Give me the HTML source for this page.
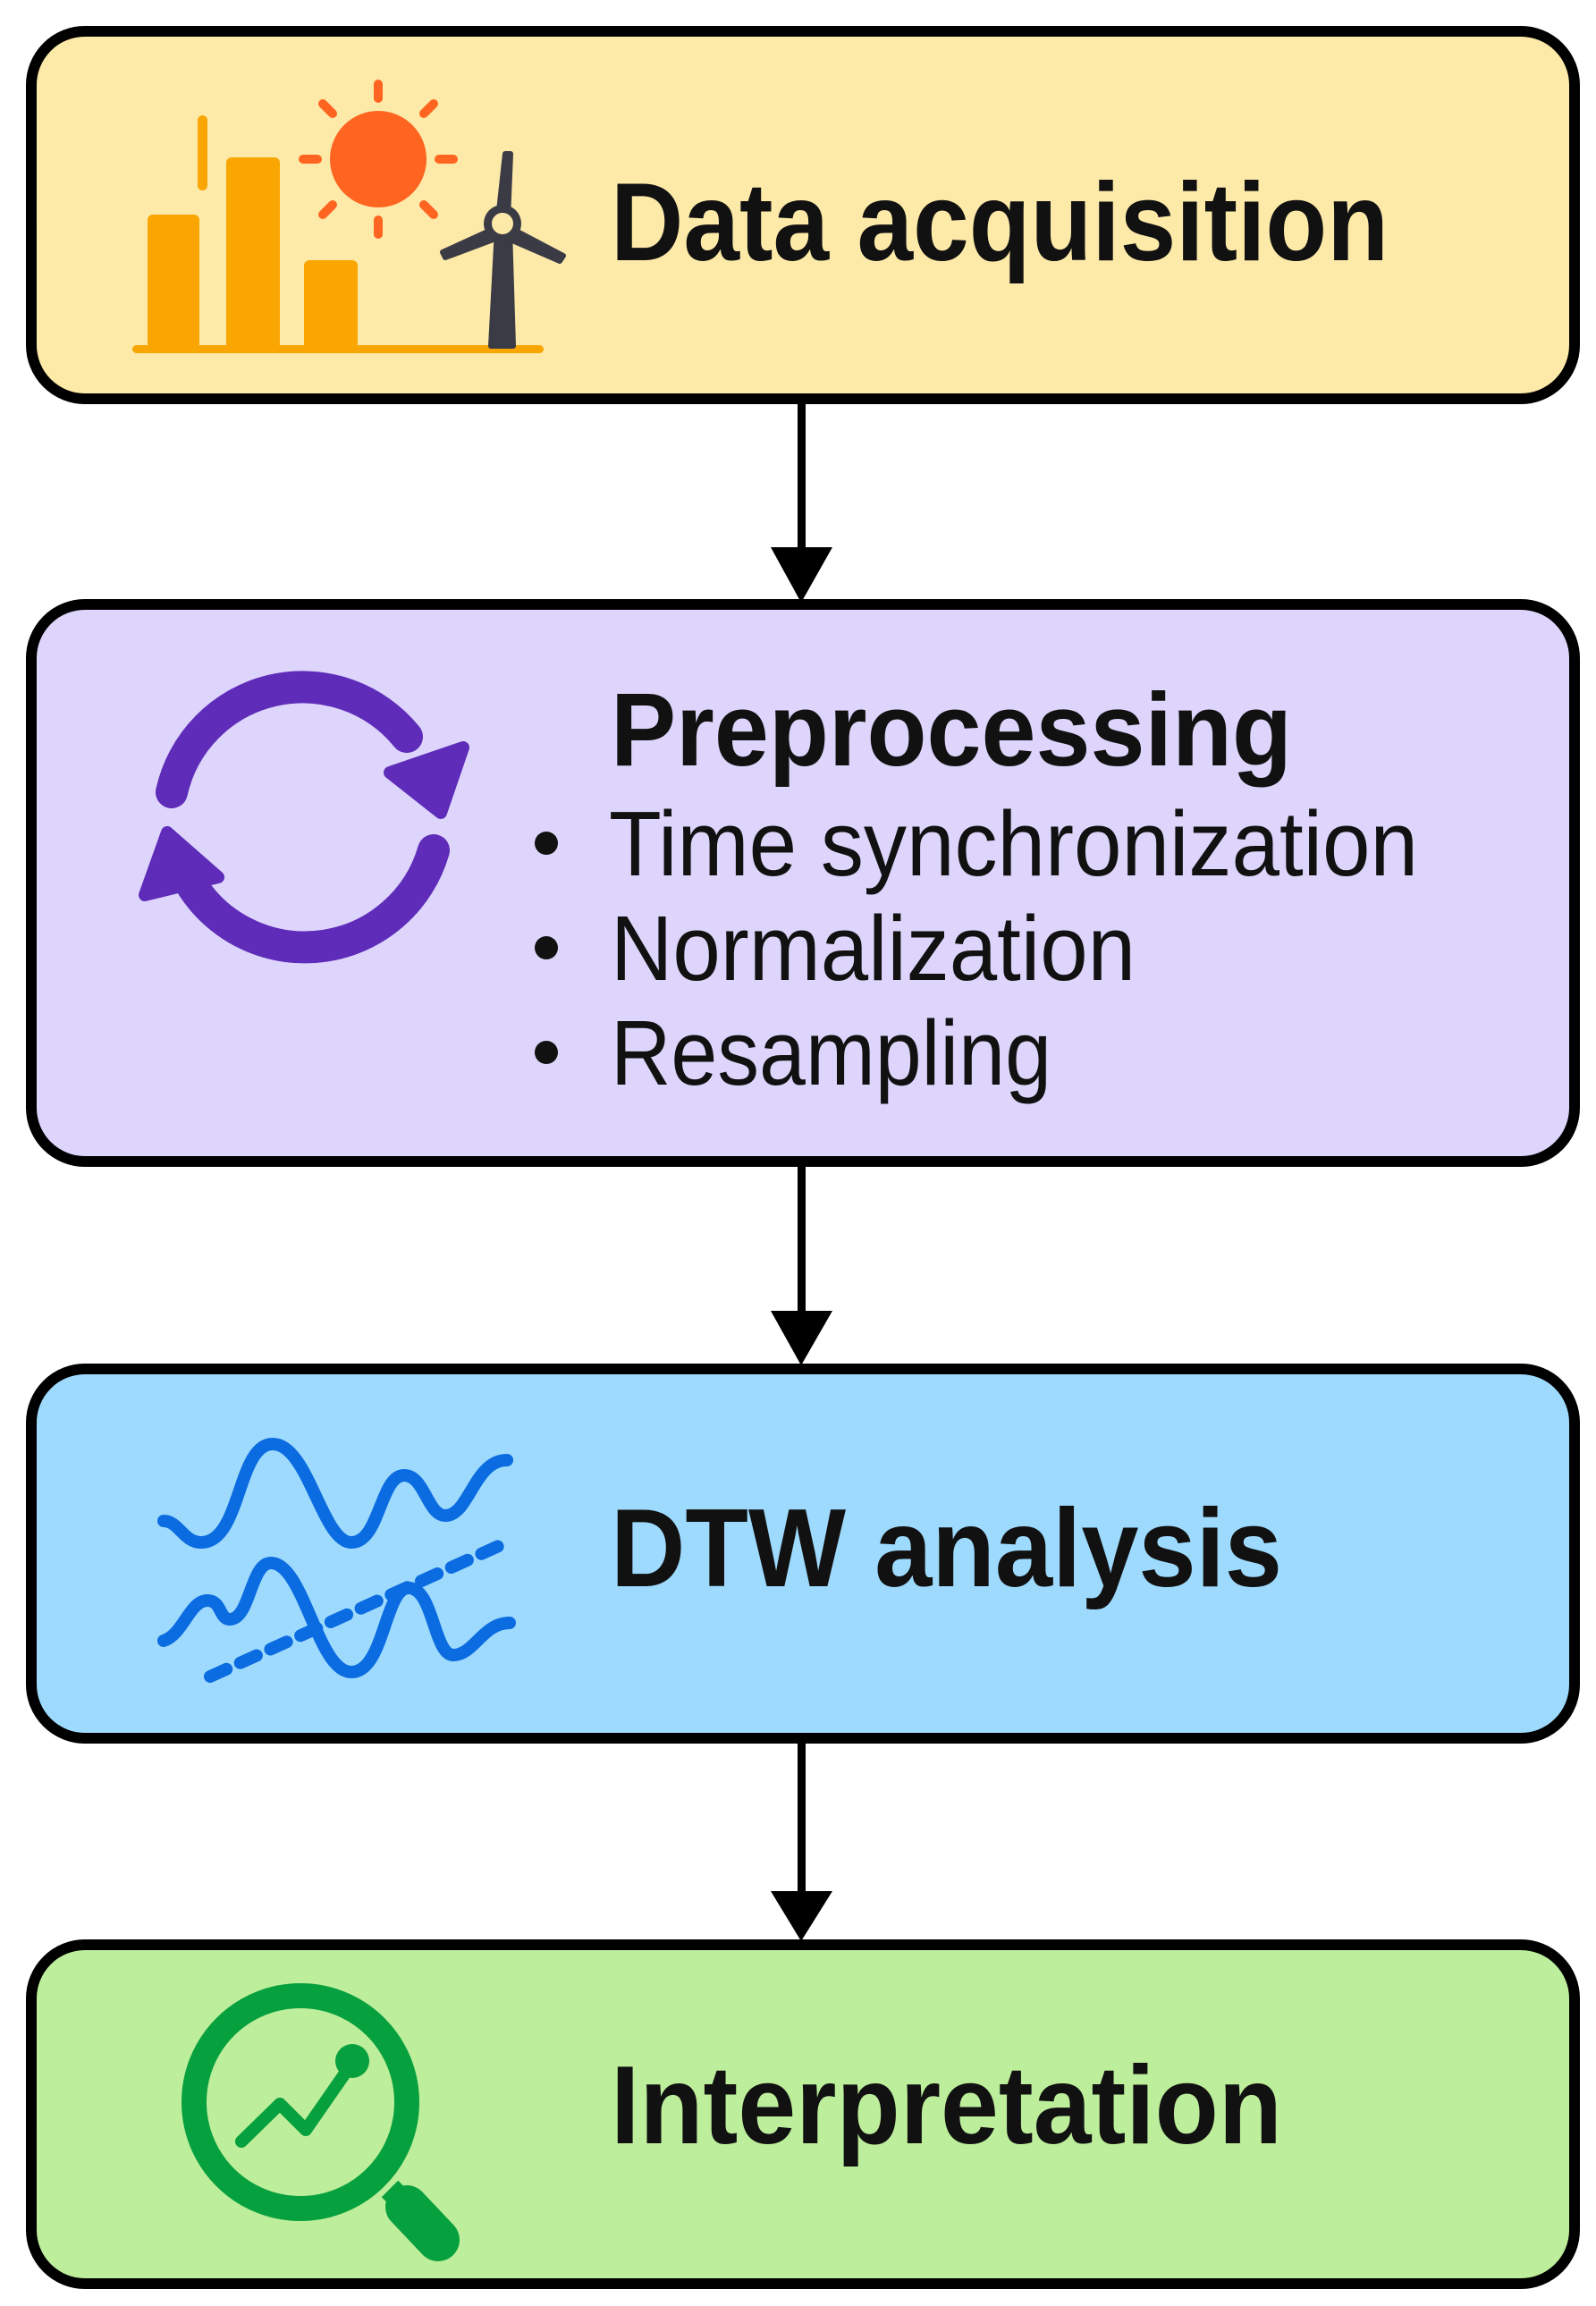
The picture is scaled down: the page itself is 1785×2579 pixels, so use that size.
<!DOCTYPE html>
<html><head><meta charset="utf-8"><style>
html,body{margin:0;padding:0;background:#fff;}
svg{display:block;}
text{font-family:"Liberation Sans",sans-serif;fill:#111;}
</style></head><body>
<svg width="1785" height="2579" viewBox="0 0 1785 2579" xmlns="http://www.w3.org/2000/svg">
<!-- boxes -->
<rect x="35" y="35" width="1726" height="411" rx="60" fill="#fdeaa9" stroke="#000" stroke-width="12"/>
<rect x="35" y="676" width="1726" height="623" rx="60" fill="#ddd5fb" stroke="#000" stroke-width="12"/>
<rect x="35" y="1531" width="1726" height="413" rx="60" fill="#9edafd" stroke="#000" stroke-width="12"/>
<rect x="35" y="2175" width="1726" height="379" rx="60" fill="#bdee9b" stroke="#000" stroke-width="12"/>
<!-- arrows -->
<g fill="#000">
<rect x="892" y="452" width="9" height="165"/><polygon points="862,612 931,612 896,674"/>
<rect x="892" y="1305" width="9" height="165"/><polygon points="862,1466 931,1466 896,1527"/>
<rect x="892" y="1950" width="9" height="170"/><polygon points="862,2115 931,2115 896,2171"/>
</g>
<!-- icon 1 -->
<g fill="#f9a602">
<rect x="165" y="240" width="58" height="150" rx="6"/>
<rect x="253" y="176" width="60" height="214" rx="6"/>
<rect x="340" y="291" width="60" height="99" rx="6"/>
<rect x="148" y="386" width="460" height="9" rx="4.5"/>
<rect x="221" y="129" width="11" height="84" rx="5.5"/>
</g>
<circle cx="423" cy="178" r="54" fill="#ff6420"/>
<g stroke="#ff6420" stroke-width="10" stroke-linecap="round">
<line x1="423" y1="94" x2="423" y2="110"/><line x1="423" y1="246" x2="423" y2="262"/>
<line x1="339" y1="178" x2="355" y2="178"/><line x1="491" y1="178" x2="507" y2="178"/>
<line x1="361" y1="116" x2="372" y2="127"/><line x1="474" y1="229" x2="485" y2="240"/>
<line x1="485" y1="116" x2="474" y2="127"/><line x1="372" y1="229" x2="361" y2="240"/>
</g>
<g fill="#3b3b45" stroke="#3b3b45" stroke-linejoin="round" stroke-width="6">
<polygon points="556,256 570,256 574,387 549,387"/>
<polygon points="557,245 565,172 571,172 568,245"/>
<polygon points="552,256 495,282 498,288 557,266"/>
<polygon points="566,266 626,292 630,286 573,256"/>
</g>
<circle cx="562" cy="250" r="21" fill="#3b3b45"/>
<circle cx="562" cy="250" r="12" fill="#fdeaa9"/>
<!-- icon 2 -->
<g transform="translate(0,6)">
<g fill="none" stroke="#5e2cb8" stroke-width="36" stroke-linecap="round">
<path d="M192,880 A150,150 0 0 1 455,818"/>
<path d="M485,945 A150,150 0 0 1 215,985"/>
</g>
<g fill="#5e2cb8" stroke="#5e2cb8" stroke-width="14" stroke-linejoin="round">
<polygon points="436,858 518,830 493,903"/>
<polygon points="187,925 162,995 244,975"/>
</g>
</g>
<!-- icon 3 -->
<g transform="translate(0,8)" fill="none" stroke="#0b6be0" stroke-width="14" stroke-linecap="round">
<path d="M183,1693 C200,1693 205,1717 225,1717 C270,1717 265,1607 305,1607 C345,1607 360,1717 393,1717 C425,1717 425,1642 452,1642 C475,1642 478,1687 498,1687 C525,1687 530,1625 567,1625"/>
<path d="M183,1827 C205,1820 212,1782 232,1782 C248,1782 245,1803 257,1803 C280,1803 280,1740 303,1740 C340,1740 355,1862 393,1862 C430,1862 430,1768 457,1768 C485,1768 485,1843 507,1843 C530,1843 540,1807 570,1807"/>
<path d="M235,1867 L560,1720" stroke-dasharray="20 17"/>
</g>
<!-- icon 4 -->
<g transform="translate(0,10)">
<circle cx="336" cy="2341" r="119" fill="none" stroke="#07a03e" stroke-width="28"/>
<line x1="436" y1="2438" x2="457" y2="2459" stroke="#07a03e" stroke-width="26"/>
<line x1="455" y1="2458" x2="490" y2="2495" stroke="#07a03e" stroke-width="48" stroke-linecap="round"/>
<polyline points="270,2385 313,2343 342,2372 392,2300" fill="none" stroke="#07a03e" stroke-width="14" stroke-linecap="round" stroke-linejoin="round"/>
<circle cx="394" cy="2295" r="19" fill="#07a03e"/>
</g>
<!-- texts -->
<text x="683" y="291" font-size="124" font-weight="bold" textLength="870" lengthAdjust="spacingAndGlyphs">Data acquisition</text>
<text x="683" y="856" font-size="116" font-weight="bold" textLength="762" lengthAdjust="spacingAndGlyphs">Preprocessing</text>
<circle cx="611" cy="943" r="13" fill="#111"/>
<circle cx="611" cy="1060" r="13" fill="#111"/>
<circle cx="611" cy="1177" r="13" fill="#111"/>
<text x="681" y="979" font-size="103" textLength="905" lengthAdjust="spacingAndGlyphs">Time synchronization</text>
<text x="683" y="1096" font-size="103" textLength="587" lengthAdjust="spacingAndGlyphs">Normalization</text>
<text x="683" y="1213" font-size="103" textLength="493" lengthAdjust="spacingAndGlyphs">Resampling</text>
<text x="683" y="1774" font-size="124" font-weight="bold" textLength="751" lengthAdjust="spacingAndGlyphs">DTW analysis</text>
<text x="683" y="2397" font-size="124" font-weight="bold" textLength="751" lengthAdjust="spacingAndGlyphs">Interpretation</text>
</svg>
</body></html>
